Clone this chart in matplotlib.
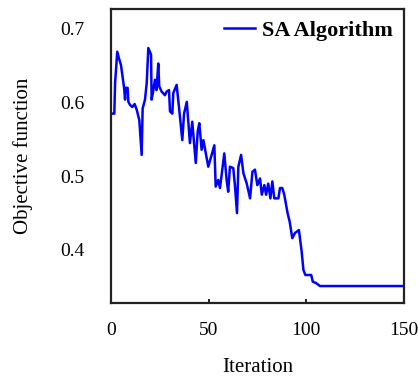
import matplotlib
matplotlib.use("Agg")
import matplotlib.pyplot as plt

iterations = [0, 1.7, 2.1, 3.2, 4.3, 5.1, 6.7, 7.2, 7.5, 8.5, 8.9, 9.7, 10.9, 12.1, 13.2,
              14.5, 15.7, 16.2, 17.4, 18.3, 19.1, 20.5, 20.8, 21.7, 22.5, 23.3, 24.2, 24.7,
              25.9, 27.6, 28.5, 29.7, 30.2, 31.4, 31.9, 33.6, 34.8, 36.5, 37.4, 38.8, 40.4,
              41.6, 43.4, 44.4, 45.2, 46.4, 47.3, 49.8, 52.9, 53.6, 54.9, 55.8, 58.0, 59.2,
              60.0, 60.9, 62.6, 63.5, 64.5, 65.2, 66.6, 67.8, 69.5, 71.2, 72.4, 73.7, 74.9,
              76.3, 77.2, 78.5, 79.4, 80.5, 81.6, 82.6, 83.6, 85.7, 86.5, 87.7, 88.7, 90.4,
              91.5, 92.8, 94.2, 96.2, 97.6, 98.5, 99.5, 101.2, 102.5, 103.3, 105.0,
              107.0, 150.0]
objective = [0.585, 0.585, 0.627, 0.669, 0.658, 0.651, 0.620, 0.604, 0.620, 0.620, 0.601,
             0.597, 0.594, 0.598, 0.590, 0.576, 0.529, 0.592, 0.604, 0.627, 0.674, 0.665,
             0.604, 0.617, 0.631, 0.617, 0.653, 0.622, 0.615, 0.610, 0.615, 0.617, 0.588,
             0.585, 0.613, 0.624, 0.594, 0.549, 0.585, 0.601, 0.545, 0.574, 0.518, 0.561,
             0.572, 0.536, 0.549, 0.513, 0.542, 0.486, 0.495, 0.484, 0.531, 0.495, 0.479,
             0.513, 0.511, 0.486, 0.450, 0.513, 0.529, 0.504, 0.490, 0.470, 0.506, 0.509,
             0.488, 0.497, 0.475, 0.488, 0.475, 0.490, 0.470, 0.493, 0.470, 0.470, 0.484,
             0.484, 0.475, 0.450, 0.438, 0.416, 0.423, 0.427, 0.398, 0.373, 0.366,
             0.366, 0.366, 0.357, 0.355, 0.351, 0.351]

xticks = [0, 50, 100, 150]
yticks = [0.4, 0.5, 0.6, 0.7]
ytick_labels = ["0.4", "0.5", "0.6", "0.7"]

plt.rcParams['font.family'] = ['Liberation Serif', 'DejaVu Serif']

fig = plt.figure(figsize=(4.18, 3.8), dpi=100)
ax = fig.add_axes([111/418, 1 - 303/380, (404 - 111)/418, (303 - 9)/380])

ax.plot(iterations, objective, color='#0000ff', lw=1.8, label='SA Algorithm')
ax.set_xlim(0, 150)
ax.set_ylim(0.328, 0.727)
ax.set_xticks(xticks)
ax.set_yticks(yticks)
ax.set_yticklabels(ytick_labels)
ax.tick_params(axis='x', direction='in', length=3, width=1.2, labelsize=14, pad=14)
ax.tick_params(axis='y', length=0, labelsize=14, pad=19)
for s in ax.spines.values():
    s.set_linewidth(1.6)
    s.set_color('#222222')

ax.set_xlabel('Iteration', fontsize=15, labelpad=13)
ax.set_ylabel('Objective function', fontsize=15, labelpad=20)

leg = ax.legend(loc='upper right', frameon=False, handlelength=1.4, handletextpad=0.3,
                prop={'weight': 'bold', 'size': 16}, borderaxespad=0.1,
                bbox_to_anchor=(1.0, 1.0))

fig.savefig('out.png', dpi=100)
